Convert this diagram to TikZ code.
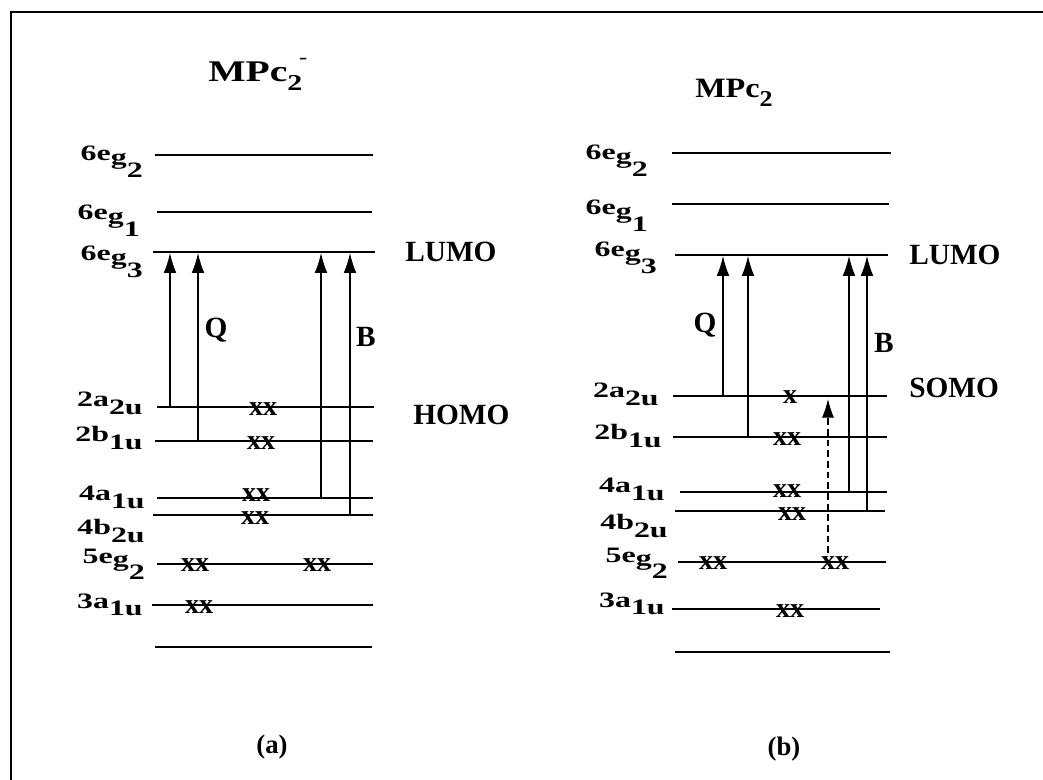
\documentclass[tikz,border=0pt]{standalone}
\usepackage{fontspec}
\setmainfont{Liberation Serif}
\usetikzlibrary{arrows.meta}
\newcommand{\ablvl}[2]{\scalebox{1.45}[1]{#1\raisebox{-0.33em}{#2}}}
\newcommand{\eglvl}[2]{\scalebox{1.45}[1]{#1e\raisebox{-0.15em}{g}\raisebox{-0.75em}{#2}}}
\tikzset{
  level/.style={line width=1.1pt},
  exc/.style={line width=0.8pt,-{Latex[length=15pt,width=9.5pt]}},
  excdash/.style={line width=0.8pt,dash pattern=on 5pt off 3pt,-{Latex[length=14pt,width=9pt]}},
  lbl/.style={font=\bfseries\fontsize{16.5}{18}\selectfont,inner sep=0pt,anchor=base east},
  big/.style={font=\bfseries\fontsize{22}{24}\selectfont,inner sep=0pt},
  ttl/.style={font=\bfseries\fontsize{21}{24}\selectfont,inner sep=0pt,anchor=base west},
  el/.style={font=\bfseries\fontsize{21}{22}\selectfont,inner sep=0pt},
  pan/.style={font=\bfseries\fontsize{20}{22}\selectfont,inner sep=0pt},
  frame/.style={line width=2.2pt}
}
\begin{document}
\begin{tikzpicture}[x=0.75pt,y=-0.75pt]
\useasboundingbox (0,0) rectangle (1043,780);
% frame
\coordinate (fl) at (11,780);
\coordinate (fc) at (11,12);
\coordinate (fr) at (1043,12);
\draw[frame] (fl) -- (fc) -- (fr);

% ---------- panel (a) ----------
\node[ttl,font=\bfseries\fontsize{22.5}{24}\selectfont] (ta) at (208,82) {\scalebox{1.32}[1]{MPc\raisebox{-0.3em}{\fontsize{17}{17}\selectfont 2}\kern-0.08em\raisebox{0.6em}{\fontsize{14}{14}\selectfont -}}};
% levels
\coordinate (a1l) at (155,155); \coordinate (a1r) at (373,155);
\coordinate (a2l) at (157,212); \coordinate (a2r) at (372,212);
\coordinate (a3l) at (153,252); \coordinate (a3r) at (375,252);
\coordinate (a4l) at (157,407); \coordinate (a4r) at (374,407);
\coordinate (a5l) at (155,441); \coordinate (a5r) at (373,441);
\coordinate (a6l) at (157,498); \coordinate (a6r) at (373,498);
\coordinate (a7l) at (153,515); \coordinate (a7r) at (373,515);
\coordinate (a8l) at (157,564); \coordinate (a8r) at (373,564);
\coordinate (a9l) at (152,605); \coordinate (a9r) at (373,605);
\coordinate (a10l) at (155,647); \coordinate (a10r) at (372,647);
\foreach \i in {1,...,10} {\draw[level] (a\i l) -- (a\i r);}
% labels
\node[lbl] (la1) at (143,161) {\eglvl{6}{2}};
\node[lbl] (la2) at (140,220) {\eglvl{6}{1}};
\node[lbl] (la3) at (143,261) {\eglvl{6}{3}};
\node[lbl] (la4) at (143,407) {\ablvl{2a}{2u}};
\node[lbl] (la5) at (143,442) {\ablvl{2b}{1u}};
\node[lbl] (la6) at (145,501) {\ablvl{4a}{1u}};
\node[lbl] (la7) at (145,535) {\ablvl{4b}{2u}};
\node[lbl] (la8) at (145,563) {\eglvl{5}{2}};
\node[lbl] (la9) at (143,608) {\ablvl{3a}{1u}};
% arrows
\coordinate (aq1s) at (170,407); \coordinate (aq1e) at (170,253);
\coordinate (aq2s) at (198,441); \coordinate (aq2e) at (198,253);
\coordinate (ab1s) at (321,498); \coordinate (ab1e) at (321,253);
\coordinate (ab2s) at (350,515); \coordinate (ab2e) at (350,253);
\draw[exc] (aq1s) -- (aq1e);
\draw[exc] (aq2s) -- (aq2e);
\draw[exc] (ab1s) -- (ab1e);
\draw[exc] (ab2s) -- (ab2e);
\node[big] (qa) at (216,330) {Q};
\node[big] (ba) at (366,337) {B};
\node[big,anchor=west] (lumoa) at (405,252) {LUMO};
\node[big,anchor=west] (homoa) at (413,415) {HOMO};
% electrons
\node[el] (ea1) at (263,409) {xx};
\node[el] (ea2) at (261,443) {xx};
\node[el] (ea3) at (256,495) {xx};
\node[el] (ea4) at (255,518) {xx};
\node[el] (ea5) at (195,565) {xx};
\node[el] (ea6) at (317,565) {xx};
\node[el] (ea7) at (199,607) {xx};
\node[pan] (pa) at (272,747) {(a)};

% ---------- panel (b) ----------
\node[ttl] (tb) at (695,98) {\scalebox{1.15}[1]{MPc\raisebox{-0.3em}{\fontsize{17}{17}\selectfont 2}}};
\coordinate (b1l) at (672,153); \coordinate (b1r) at (891,153);
\coordinate (b2l) at (672,204); \coordinate (b2r) at (889,204);
\coordinate (b3l) at (675,255); \coordinate (b3r) at (888,255);
\coordinate (b4l) at (673,396); \coordinate (b4r) at (887,396);
\coordinate (b5l) at (673,437); \coordinate (b5r) at (887,437);
\coordinate (b6l) at (680,492); \coordinate (b6r) at (887,492);
\coordinate (b7l) at (675,511); \coordinate (b7r) at (885,511);
\coordinate (b8l) at (678,562); \coordinate (b8r) at (886,562);
\coordinate (b9l) at (672,609); \coordinate (b9r) at (880,609);
\coordinate (b10l) at (675,652); \coordinate (b10r) at (890,652);
\foreach \i in {1,...,10} {\draw[level] (b\i l) -- (b\i r);}
\node[lbl] (lb1) at (648,160) {\eglvl{6}{2}};
\node[lbl] (lb2) at (648,215) {\eglvl{6}{1}};
\node[lbl] (lb3) at (657,257) {\eglvl{6}{3}};
\node[lbl] (lb4) at (659,398) {\ablvl{2a}{2u}};
\node[lbl] (lb5) at (662,440) {\ablvl{2b}{1u}};
\node[lbl] (lb6) at (665,493) {\ablvl{4a}{1u}};
\node[lbl] (lb7) at (668,530) {\ablvl{4b}{2u}};
\node[lbl] (lb8) at (668,562) {\eglvl{5}{2}};
\node[lbl] (lb9) at (665,607) {\ablvl{3a}{1u}};
\coordinate (bq1s) at (723,396); \coordinate (bq1e) at (723,256);
\coordinate (bq2s) at (748,437); \coordinate (bq2e) at (748,256);
\coordinate (bb1s) at (849,492); \coordinate (bb1e) at (849,256);
\coordinate (bb2s) at (867,511); \coordinate (bb2e) at (867,256);
\draw[exc] (bq1s) -- (bq1e);
\draw[exc] (bq2s) -- (bq2e);
\draw[exc] (bb1s) -- (bb1e);
\draw[exc] (bb2s) -- (bb2e);
\node[big] (qb) at (705,325) {Q};
\node[big] (bb) at (884,343) {B};
\node[big,anchor=west] (lumob) at (909,255) {LUMO};
\node[big,anchor=west] (somob) at (909,388) {SOMO};
\node[el] (eb1) at (790,397) {x};
\node[el] (eb2) at (787,439) {xx};
\node[el] (eb3) at (787,491) {xx};
\node[el] (eb4) at (792,514) {xx};
\node[el] (eb5) at (713,563) {xx};
\node[el] (eb6) at (835,563) {xx};
\node[el] (eb7) at (790,611) {xx};
\coordinate (ds) at (828,553);
\coordinate (de) at (828,399);
\draw[excdash] (ds) -- (de);
\node[pan] (pb) at (784,749) {(b)};
\end{tikzpicture}
\end{document}
